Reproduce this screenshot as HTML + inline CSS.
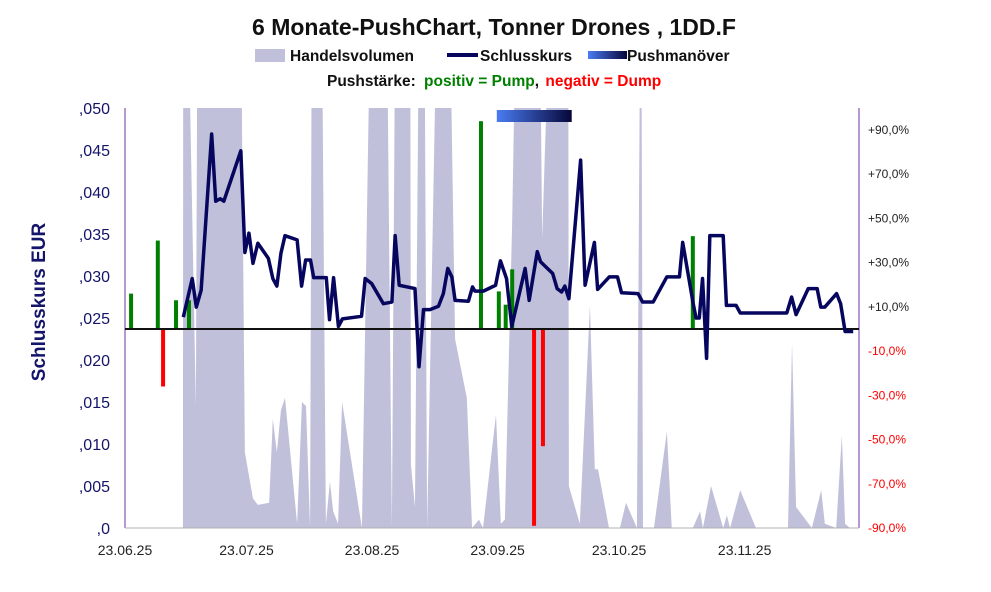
<!DOCTYPE html>
<html><head><meta charset="utf-8"><style>
html,body{margin:0;padding:0;background:#fff;}
svg{display:block;font-family:"Liberation Sans",Arial,sans-serif;}
</style></head><body>
<svg id="chart" width="991" height="592" viewBox="0 0 991 592">
<defs>
<clipPath id="plotclip"><rect x="125" y="108" width="734" height="420"/></clipPath>
<linearGradient id="pushgrad" x1="0" x2="1" y1="0" y2="0"><stop offset="0" stop-color="#4a7cf2"/><stop offset="1" stop-color="#07073a"/></linearGradient>
</defs>
<text x="494" y="35" text-anchor="middle" font-size="23" font-weight="bold" fill="#111">6 Monate-PushChart, Tonner Drones , 1DD.F</text>
<g>
<rect x="255" y="49" width="30" height="13" fill="#c0c0da"/>
<text x="290" y="61" font-size="15.5" font-weight="bold" fill="#111">Handelsvolumen</text>
<line x1="447" y1="55" x2="478" y2="55" stroke="#06065e" stroke-width="4"/>
<text x="480" y="61" font-size="15.5" font-weight="bold" fill="#111">Schlusskurs</text>
<rect x="588" y="51" width="39" height="8" fill="url(#pushgrad)"/>
<text x="627" y="61" font-size="15.5" font-weight="bold" fill="#111">Pushmanöver</text>
<text x="327" y="86" font-size="15.5" font-weight="bold"><tspan fill="#111">Pushstärke:  </tspan><tspan fill="#008000" dx="4">positiv = Pump</tspan><tspan fill="#111">, </tspan><tspan fill="#ff0000" dx="2">negativ = Dump</tspan></text>
</g>
<text transform="translate(45,302) rotate(-90)" text-anchor="middle" font-size="19" font-weight="bold" fill="#14146a">Schlusskurs EUR</text>
<g id="vol" clip-path="url(#plotclip)"></g>
<g id="axes"></g>
<g id="marks"></g>
</svg>
<script>
const priceDays=[14.4,16.6,17.6,18.8,21.4,22.4,23.5,24.4,28.6,29.6,30.6,31.6,32.8,35.4,36.5,37.5,38.5,39.5,42.5,43.6,44.6,45.8,46.6,49.7,50.5,51.5,52.7,53.7,58.4,59.3,60.9,63.8,65.9,66.7,67.7,71.6,72.6,73.7,75.3,77.4,78.6,79.7,80.7,81.5,84.8,85.8,86.4,88.5,91.5,92.7,94.2,95.5,98.8,99.8,101.8,102.6,105.6,106.7,107.8,108.6,109.6,112.5,113.6,115.9,116.7,119.6,121.6,122.6,126.7,127.8,130.4,133.8,136.9,137.7,140.3,141,141.8,142.6,143.6,144.4,147.7,148.5,150.9,151.9,163.4,164.6,165.7,168.7,170.9,171.8,172.8,175.7,176.7,177.8,179.8];
const priceValues=[0.0251,0.0297,0.0263,0.0283,0.0469,0.0389,0.0392,0.0389,0.0449,0.0328,0.0351,0.0315,0.0339,0.0321,0.0297,0.0288,0.0327,0.0348,0.0343,0.0288,0.0319,0.0319,0.0298,0.0298,0.0248,0.0298,0.0240,0.0249,0.0252,0.0297,0.0291,0.0267,0.0269,0.0348,0.0289,0.0285,0.0192,0.0260,0.0260,0.0264,0.0279,0.0309,0.0299,0.0271,0.0270,0.0287,0.0282,0.0282,0.0289,0.0318,0.0297,0.0240,0.0309,0.0271,0.0329,0.0317,0.0303,0.0285,0.0281,0.0288,0.0273,0.0438,0.0289,0.0340,0.0284,0.0299,0.0299,0.0280,0.0279,0.0269,0.0269,0.0299,0.0299,0.0340,0.0267,0.0250,0.0250,0.0297,0.0202,0.0348,0.0348,0.0265,0.0265,0.0256,0.0256,0.0275,0.0254,0.0285,0.0285,0.0263,0.0263,0.0279,0.0267,0.0234,0.0234];
const volDays=[14.3,14.4,15.1,17.5,18,28.4,29.6,31.6,32.8,35.6,36.5,37.5,38.5,39.5,42.5,43.7,44.7,45.7,46.2,48.4,49.6,50.6,51.4,52.6,53.6,58.5,61,64.4,65.9,66.9,70.4,70.6,71.6,72.8,73.8,74.6,77.5,79.8,81.5,84.4,85.7,87.4,88.4,91.6,92.8,93.8,95.6,97,102.2,103,105.7,109.4,109.6,112.3,114.8,116,116.8,119.5,122.2,123.7,126.4,127.4,127.9,130.6,133.8,135,140.2,142,142.7,144.7,147.7,148.6,149.4,151.9,155.8,163.7,164.7,165.7,169.6,171.9,172.8,175.6,177,177.8,179];
const volValues=[0,150,150,29,150,150,18,7,5.5,6,26,18,28,31,1,30,29,0,150,150,1,11,4,1,30,0,150,150,0,150,150,15,5,150,150,0,150,150,45,31,0,2,0,27,1,2,73,150,150,69,150,150,10,1,53,14,14,0,0,6,0,150,0,0,23,0,0,4,0,10,0,3,0,9,0,0,44,5,0,9,1,0,22,1,0];
const pushDays=[1.5,8.1,9.4,12.6,15.8,87.9,92.3,94,95.6,101,103.2,140.2];
const pushValues=[16,40,-26,13,13,94,17,11,27,-89,-53,42];
const pushManeuverStart=91.8, pushManeuverEnd=110.3;
const leftTicks=[0,0.005,0.01,0.015,0.02,0.025,0.03,0.035,0.04,0.045,0.05];
const leftTickLabels=[",0",",005",",010",",015",",020",",025",",030",",035",",040",",045",",050"];
const rightTicks=[-90,-70,-50,-30,-10,10,30,50,70,90];
const xTickDays=[0,30,61,92,122,153];
const xTickLabels=["23.06.25","23.07.25","23.08.25","23.09.25","23.10.25","23.11.25"];

const NS="http://www.w3.org/2000/svg";
const X0=125,PX=4.05,YB=528,YT=108;
const xs=d=>X0+d*PX;
const yl=v=>YB-(v/0.05)*(YB-YT);
const yv=v=>YB-v/100*(YB-YT);
const yr=p=>329-p*(199/90);
function mk(tag,attrs,parent){const e=document.createElementNS(NS,tag);for(const k in attrs)e.setAttribute(k,attrs[k]);parent.appendChild(e);return e;}
const gVol=document.getElementById('vol'),gAx=document.getElementById('axes'),gM=document.getElementById('marks');

let d=`M${xs(volDays[0])},${YB}`;
volDays.forEach((v,i)=>{d+=` L${xs(v)},${yv(volValues[i])}`;});
d+=` L${xs(volDays[volDays.length-1])},${YB} Z`;
const area=mk('path',{d:d,fill:'#c0c0da'},gVol);



const la=mk('line',{x1:125,y1:108,x2:125,y2:528,stroke:'#7030a0','stroke-width':1},gAx);


const ra=mk('line',{x1:859,y1:108,x2:859,y2:528,stroke:'#7030a0','stroke-width':1},gAx);


const ba=mk('line',{x1:125,y1:528,x2:859,y2:528,stroke:'#b0b0b0','stroke-width':1},gAx);


leftTicks.forEach((v,i)=>{const t=mk('text',{x:110,y:yl(v)+6,'text-anchor':'end','font-size':16,fill:'#14146a'},gAx);t.textContent=leftTickLabels[i];

});
rightTicks.forEach(p=>{const t=mk('text',{x:868,y:yr(p)+4,'font-size':12,fill:p<0?'#ff0000':'#222'},gAx);t.textContent=(p>0?'+':'')+p.toFixed(1).replace('.',',')+'%';

});
xTickDays.forEach((v,i)=>{const t=mk('text',{x:xs(v),y:555,'text-anchor':'middle','font-size':14,fill:'#222'},gAx);t.textContent=xTickLabels[i];

});

pushDays.forEach((v,i)=>{const p=pushValues[i];const y1=yr(Math.max(p,0)),y2=yr(Math.min(p,0));
const r=mk('rect',{x:xs(v)-2,y:y1,width:4,height:y2-y1,fill:p>=0?'#008000':'#ff0000'},gM);

});
const zl=mk('line',{x1:125,y1:329,x2:859,y2:329,stroke:'#111','stroke-width':2},gM);


const pm=mk('rect',{x:xs(pushManeuverStart),y:110,width:xs(pushManeuverEnd)-xs(pushManeuverStart),height:12,fill:'url(#pushgrad)'},gM);



const pts=priceDays.map((v,i)=>`${xs(v)},${yl(priceValues[i])}`).join(' ');
const pl=mk('polyline',{points:pts,fill:'none',stroke:'#06065e','stroke-width':3.5,'stroke-linejoin':'round'},gM);


</script>
</body></html>
